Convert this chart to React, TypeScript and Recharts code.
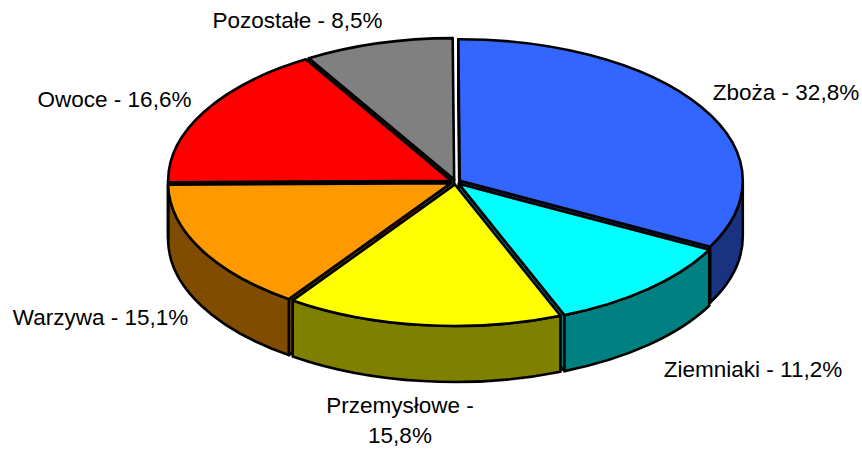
import React from 'react';
import { Pie, PieChart } from 'recharts';

const categories = ['Zboża', 'Ziemniaki', 'Przemysłowe', 'Warzywa', 'Owoce', 'Pozostałe'];
const shares = [32.8, 11.2, 15.8, 15.1, 16.6, 8.5];
const topColors = ['#3366FF', '#00FFFF', '#FFFF00', '#FF9900', '#FF0000', '#808080'];
const sideColors = ['#1A3380', '#008080', '#808000', '#804C00', '#800000', '#404040'];

// where each label sits: [centre x, first baseline]
const labelSpots: Array<[number, number]> = [
  [786, 100],
  [753, 377],
  [400, 413],
  [100.5, 325],
  [114.5, 107],
  [297.5, 28],
];

const WIDTH = 862;
const HEIGHT = 450;
const CX = 455.5;
const CY = 182;
const RADIUS = 283;
const START = 90.3;
const TILT = 0.5; // ellipse ry / rx
const DEPTH = 56;
const EXPLODE = 5;
const STROKE = 2.6;

const data = categories.map((name, i) => ({
  name,
  value: shares[i],
  fill: topColors[i],
  side: sideColors[i],
}));

const rad = (deg: number) => (deg * Math.PI) / 180;

// slice centre after pulling it out along its middle angle
const apexOf = (p: any) => ({
  x: p.cx + EXPLODE * Math.cos(rad(p.midAngle)),
  y: p.cy - EXPLODE * TILT * Math.sin(rad(p.midAngle)),
});

const rim = (apex: { x: number; y: number }, r: number, deg: number) => ({
  x: apex.x + r * Math.cos(rad(deg)),
  y: apex.y - r * TILT * Math.sin(rad(deg)),
});

const outline = { stroke: '#000', strokeWidth: STROKE, strokeLinejoin: 'round' as const };

const TopShape = (p: any) => {
  const apex = apexOf(p);
  const r = p.outerRadius;
  const a = rim(apex, r, p.startAngle);
  const b = rim(apex, r, p.endAngle);
  const large = p.startAngle - p.endAngle > 180 ? 1 : 0;
  const d = `M${apex.x},${apex.y}L${a.x},${a.y}A${r},${r * TILT} 0 ${large} 1 ${b.x},${b.y}Z`;
  return <path d={d} fill={p.fill} {...outline} />;
};

// the cut faces of a pulled out slice, only those turned to the viewer
const FaceShape = (p: any) => {
  const apex = apexOf(p);
  const r = p.outerRadius;
  const side = p.payload?.side ?? p.side;
  const angles: number[] = [];
  if (Math.cos(rad(p.startAngle)) < 0) angles.push(p.startAngle);
  if (Math.cos(rad(p.endAngle)) > 0) angles.push(p.endAngle);
  return (
    <g>
      {angles.map((deg) => {
        const e = rim(apex, r, deg);
        const d = `M${apex.x},${apex.y}L${e.x},${e.y}L${e.x},${e.y + DEPTH}L${apex.x},${apex.y + DEPTH}Z`;
        return <path key={deg} d={d} fill={side} {...outline} />;
      })}
    </g>
  );
};

// only the rim below the horizontal can be seen
const WallShape = (p: any) => {
  const apex = apexOf(p);
  const r = p.outerRadius;
  const side = p.payload?.side ?? p.side;
  const hi = Math.min(p.startAngle, 0);
  const lo = Math.max(p.endAngle, -180);
  if (hi <= lo) return <g />;
  const a = rim(apex, r, hi);
  const b = rim(apex, r, lo);
  const ry = r * TILT;
  const d = `M${a.x},${a.y}A${r},${ry} 0 0 1 ${b.x},${b.y}L${b.x},${b.y + DEPTH}A${r},${ry} 0 0 0 ${a.x},${a.y + DEPTH}Z`;
  return <path d={d} fill={side} {...outline} />;
};

const SliceLabel = (p: any) => {
  const i = p.index;
  const [x, y] = labelSpots[i];
  const pct = `${shares[i].toFixed(1).replace('.', ',')}%`;
  const common = {
    textAnchor: 'middle' as const,
    fontFamily: '"Liberation Sans", Arial, sans-serif',
    fontSize: 22.5,
    fill: '#000',
  };
  if (categories[i] === 'Przemysłowe') {
    return (
      <text {...common} x={x} y={y}>
        <tspan x={x}>{`${categories[i]} -`}</tspan>
        <tspan x={x} dy={30}>{pct}</tspan>
      </text>
    );
  }
  return (
    <text {...common} x={x} y={y}>
      {`${categories[i]} - ${pct}`}
    </text>
  );
};

const layer = (shape: any, label: any) => (
  <Pie
    data={data}
    dataKey="value"
    nameKey="name"
    cx={CX}
    cy={CY}
    outerRadius={RADIUS}
    startAngle={START}
    endAngle={START - 360}
    shape={shape}
    label={label}
    labelLine={false}
    isAnimationActive={false}
  />
);

export default function App() {
  return (
    <div style={{ position: 'absolute', left: 0, top: 0, width: WIDTH, height: HEIGHT, background: '#fff' }}>
      <PieChart width={WIDTH} height={HEIGHT} margin={{ top: 0, right: 0, bottom: 0, left: 0 }}>
        {layer(FaceShape, false)}
        {layer(WallShape, false)}
        {layer(TopShape, SliceLabel)}
      </PieChart>
    </div>
  );
}
